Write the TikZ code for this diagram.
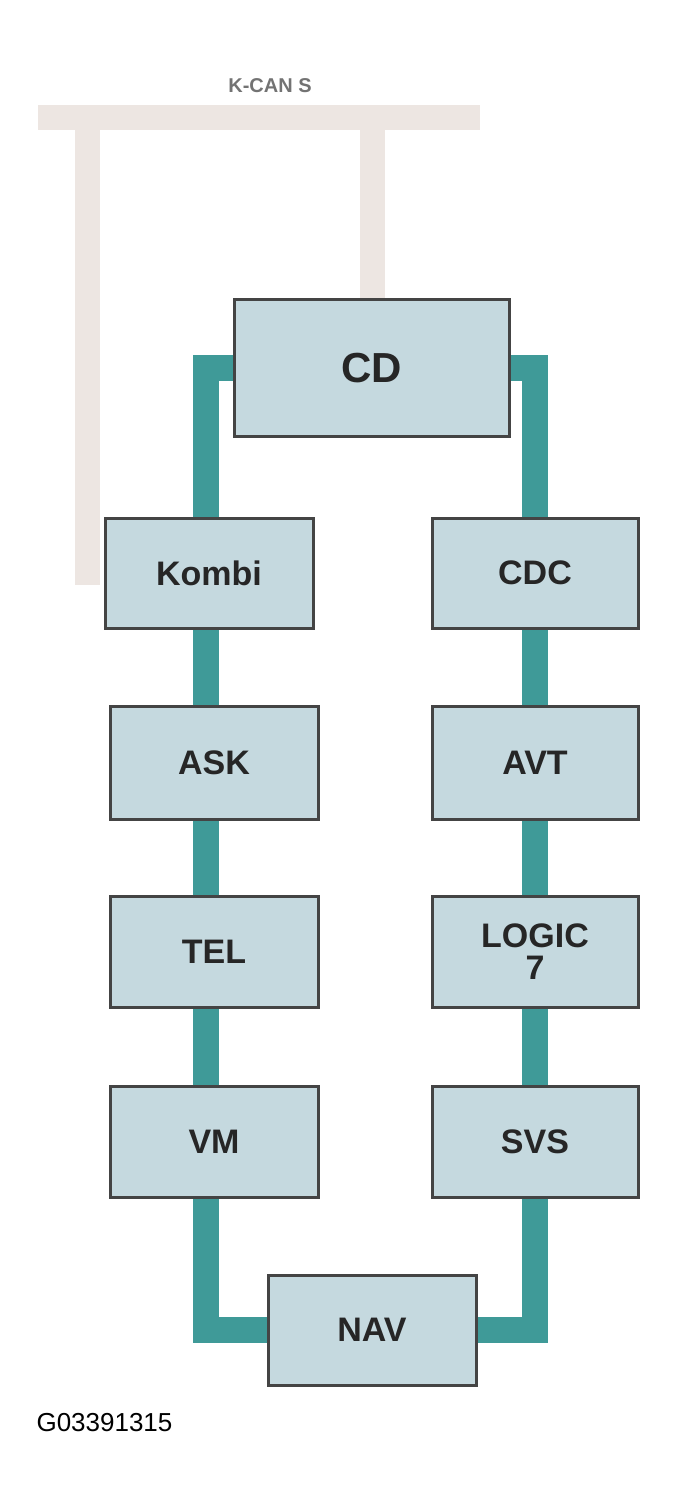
\documentclass[tikz,border=0pt]{standalone}
\usepackage{fontspec}
\setmainfont{Liberation Sans}
\usetikzlibrary{backgrounds}
\definecolor{teal1}{HTML}{3F9A98}
\definecolor{busc}{HTML}{EDE6E2}
\definecolor{boxf}{HTML}{C5D9DF}
\definecolor{boxd}{HTML}{444444}
\begin{document}
\begin{tikzpicture}[x=1pt,y=-1pt,
  box/.style={draw=boxd,line width=3pt,fill=boxf,rectangle,inner sep=0pt,
    minimum width=206pt,minimum height=110pt,font=\fontsize{34}{36}\selectfont\bfseries,align=center,text=black!85},
  ring/.style={teal1,line width=26pt},
  bus/.style={busc,line width=25pt}]
\useasboundingbox (0,0) rectangle (680,1508);
\node[font=\fontsize{20}{22}\selectfont\bfseries,text=black!55] (lab) at (270,86) {K-CAN S};
\node[box,minimum width=275pt,minimum height=137pt,font=\fontsize{42}{44}\selectfont\bfseries] (CD) at (372,368) {CD};
\node[box,minimum width=208pt] (Kombi) at (209,573) {Kombi};
\node[box] (CDC) at (535,573) {CDC};
\node[box,minimum width=208pt,minimum height=113pt] (ASK) at (214,763) {ASK};
\node[box,minimum height=113pt] (AVT) at (535,763) {AVT};
\node[box,minimum width=208pt,minimum height=111pt] (TEL) at (214,952) {TEL};
\node[box,minimum height=111pt] (LOG) at (535,952) {LOGIC\\[-4pt]7};
\node[box,minimum width=208pt,minimum height=111pt] (VM) at (214,1142) {VM};
\node[box,minimum height=111pt] (SVS) at (535,1142) {SVS};
\node[box,minimum width=208pt] (NAV) at (372,1330) {NAV};
\coordinate (b1) at (38,117);
\coordinate (b2) at (480,117);
\coordinate (bl) at (87,117);
\coordinate (ble) at (87,585);
\coordinate (br) at (372,117);
\begin{scope}[on background layer]
\draw[bus] (b1) -- (b2);
\draw[bus] (bl) -- (ble);
\draw[bus] (br) -- (CD.north);
\draw[ring] (CD.west) -- ++(-27,0) |- (NAV.west);
\draw[ring] (CD.east) -- ++(24,0) |- (NAV.east);
\end{scope}
\node[anchor=west,font=\fontsize{26}{28}\selectfont] (code) at (33,1423) {G03391315};
\end{tikzpicture}
\end{document}
